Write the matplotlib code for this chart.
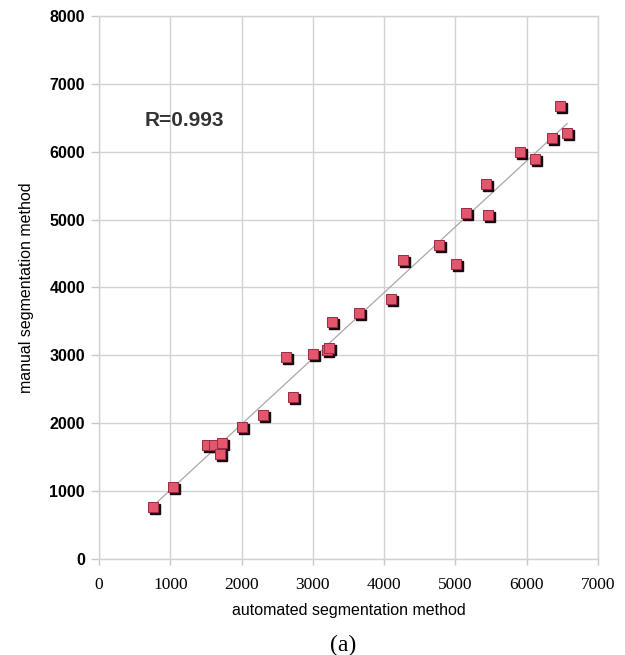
import numpy as np
import matplotlib
matplotlib.use('Agg')
import matplotlib.pyplot as plt
from matplotlib.transforms import offset_copy

# volumes measured by both methods, one entry per sample
automated = [760, 1035, 1510, 1613, 1725, 1701, 2001, 2300, 2720, 2618,
             3001, 3202, 3230, 3272, 3651, 4100, 4259, 4769, 5011, 5152,
             5460, 5424, 5905, 6111, 6349, 6461, 6568]
manual = [759, 1059, 1681, 1681, 1715, 1549, 1950, 2118, 2391, 2975,
          3015, 3078, 3107, 3490, 3626, 3832, 4412, 4622, 4353, 5103,
          5063, 5519, 5994, 5887, 6200, 6681, 6269]
r_text = 'R=0.993'

xticks = [0, 1000, 2000, 3000, 4000, 5000, 6000, 7000]
yticks = [0, 1000, 2000, 3000, 4000, 5000, 6000, 7000, 8000]

fig = plt.figure(figsize=(6.25, 6.55), dpi=100)
ax = fig.add_axes([0.1584, 0.1466, 0.7984, 0.829])

x = np.array(automated)
y = np.array(manual)

# least squares trend line over the data range
k, b = np.polyfit(x, y, 1)
xl = np.array([x.min(), x.max()])
ax.plot(xl, k * xl + b, color='#a8a8a8', lw=0.9, zorder=3)

# squares with a dark drop shadow
shadow = offset_copy(ax.transData, fig=fig, x=2, y=-2, units='dots')
ax.plot(x, y, 's', ms=6.8, color='#1a0a10', mec='#1a0a10', transform=shadow, zorder=4)
ax.plot(x, y, 's', ms=6.8, color='#e4566b', mec='#9a2a45', mew=0.7, zorder=5)

ax.text(645, 6460, r_text, fontsize=15, fontweight='bold', color='#333333',
        family='Liberation Sans', va='center', ha='left')

ax.set_xlim(0, 7000)
ax.set_ylim(0, 8000)
ax.set_xticks(xticks)
ax.set_yticks(yticks)
ax.set_xticklabels([str(t) for t in xticks], family='Liberation Serif', fontsize=12.5)
ax.set_yticklabels([str(t) for t in yticks], family='Liberation Sans', fontsize=11.5, fontweight='bold')
ax.tick_params(axis='y', length=6, width=1, color='#c8c8c8', pad=4)
ax.tick_params(axis='x', length=4, width=1, color='#c8c8c8', pad=9)

ax.grid(True, color='#d2d2d2', lw=1)
ax.set_axisbelow(True)
for s in ax.spines.values():
    s.set_color('#d2d2d2')
    s.set_linewidth(1)

ax.set_xlabel('automated segmentation method', family='Liberation Sans', fontsize=11.5, labelpad=7)
ax.set_ylabel('manual segmentation method', family='Liberation Sans', fontsize=11.5, labelpad=11)

fig.text(0.549, 0.015, '(a)', family='Liberation Serif', fontsize=17, ha='center', va='center')

fig.savefig('out.png', dpi=100)
